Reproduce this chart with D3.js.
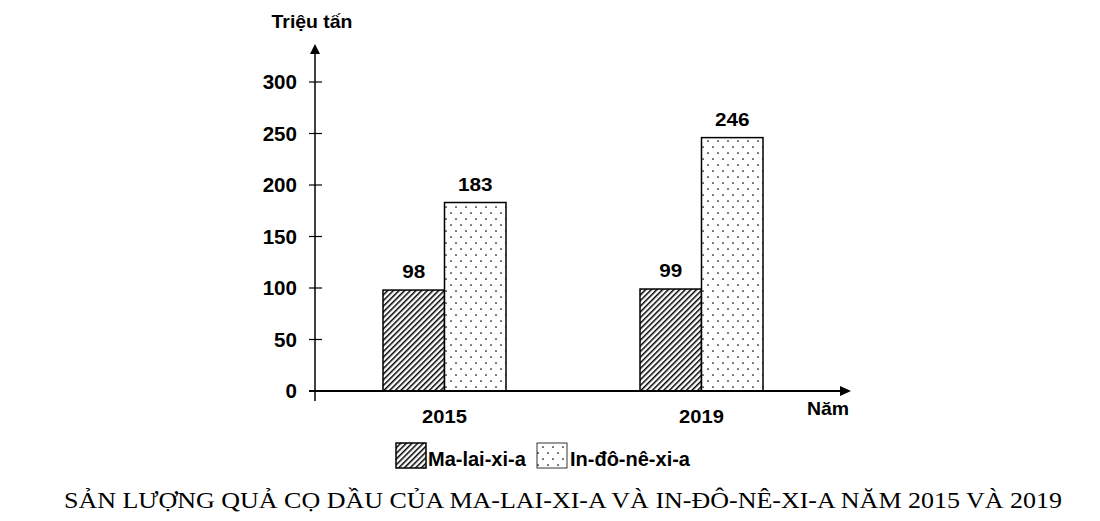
<!DOCTYPE html>
<html>
<head>
<meta charset="utf-8">
<script src="https://cdn.jsdelivr.net/npm/d3@7"></script>
<style>
  body { margin: 0; background: #fff; }
  svg { display: block; }
  .sans { font-family: "Liberation Sans", Arial, sans-serif; font-weight: bold; fill: #000; }
  .title { font-family: "Liberation Serif", "Times New Roman", serif; font-size: 23px; fill: #000; }
</style>
</head>
<body>
<div id="container"></div>
<script>
const years = ["2015", "2019"];
const seriesNames = ["Ma-lai-xi-a", "In-đô-nê-xi-a"];
const malaysia = [98, 99];
const indonesia = [183, 246];
const yTicks = [0, 50, 100, 150, 200, 250, 300];

const width = 1100;
const height = 521;

const svg = d3.select('#container').append('svg')
    .attr('width', width)
    .attr('height', height);

// text placed with a slight horizontal stretch, like the source picture
const label = (sel, x, y, size, sx, anchor) => sel
    .attr('class', 'sans')
    .attr('transform', `translate(${x},${y}) scale(${sx},1)`)
    .attr('text-anchor', anchor)
    .style('font-size', size + 'px');

// patterns
const defs = svg.append('defs');
const hatch = defs.append('pattern')
    .attr('id', 'hatch')
    .attr('patternUnits', 'userSpaceOnUse')
    .attr('width', 4)
    .attr('height', 4)
    .attr('patternTransform', 'rotate(45)');
hatch.append('rect').attr('width', 4).attr('height', 4).attr('fill', '#fff');
hatch.append('line')
    .attr('x1', 0).attr('y1', 0).attr('x2', 0).attr('y2', 4)
    .attr('stroke', '#000').attr('stroke-width', 3);

const dots = defs.append('pattern')
    .attr('id', 'dots')
    .attr('patternUnits', 'userSpaceOnUse')
    .attr('width', 10)
    .attr('height', 12);
dots.append('rect').attr('width', 10).attr('height', 12).attr('fill', '#fff');
dots.append('circle').attr('cx', 3).attr('cy', 3).attr('r', 0.85).attr('fill', '#000');
dots.append('circle').attr('cx', 8).attr('cy', 9).attr('r', 0.85).attr('fill', '#000');

const x0 = 315;
const xEnd = 850;
const yZero = 391;

const yScale = d3.scaleLinear()
    .domain([0, 300])
    .range([yZero, 82]);

const xScale = d3.scaleBand()
    .domain(years)
    .range([318.75, 827.25])
    .paddingInner(0.5214)
    .paddingOuter(0.25);

const inner = d3.scaleBand()
    .domain(seriesNames)
    .range([0, xScale.bandwidth()]);

// y axis line with arrow
svg.append('line')
    .attr('x1', x0).attr('y1', 401)
    .attr('x2', x0).attr('y2', 52)
    .attr('stroke', '#000').attr('stroke-width', 1.5);
svg.append('path')
    .attr('d', `M${x0 - 5},${54} L${x0},${44} L${x0 + 5},${54} Z`)
    .attr('fill', '#000');

// y ticks
const yAxis = svg.append('g');
yAxis.selectAll('line')
    .data(yTicks)
    .enter()
    .append('line')
    .attr('x1', x0 - 6)
    .attr('x2', x0 + 7)
    .attr('y1', d => yScale(d))
    .attr('y2', d => yScale(d))
    .attr('stroke', '#000')
    .attr('stroke-width', 1.2);
yAxis.selectAll('text')
    .data(yTicks)
    .enter()
    .append('text')
    .each(function (d) {
        label(d3.select(this), 297, yScale(d) + 7, 20, 1.03, 'end');
    })
    .text(d => d);

label(svg.append('text'), 312, 28, 18, 1.08, 'middle').text('Triệu tấn');

// bars
const groups = svg.selectAll('g.year')
    .data(years)
    .enter()
    .append('g')
    .attr('class', 'year')
    .attr('transform', d => `translate(${xScale(d)},0)`);

groups.each(function (y, i) {
    const g = d3.select(this);
    const data = [
        { name: seriesNames[0], value: malaysia[i], fill: 'url(#hatch)' },
        { name: seriesNames[1], value: indonesia[i], fill: 'url(#dots)' }
    ];
    g.selectAll('rect')
        .data(data)
        .enter()
        .append('rect')
        .attr('x', d => inner(d.name))
        .attr('y', d => yScale(d.value))
        .attr('width', inner.bandwidth())
        .attr('height', d => yZero - yScale(d.value))
        .attr('fill', d => d.fill)
        .attr('stroke', '#000')
        .attr('stroke-width', 1.5);
    g.selectAll('text')
        .data(data)
        .enter()
        .append('text')
        .each(function (d) {
            label(d3.select(this), inner(d.name) + inner.bandwidth() / 2,
                yScale(d.value) - 12, 18, 1.15, 'middle');
        })
        .text(d => d.value);
});

// x axis with arrow
svg.append('line')
    .attr('x1', x0 - 6).attr('y1', yZero)
    .attr('x2', xEnd - 8).attr('y2', yZero)
    .attr('stroke', '#000').attr('stroke-width', 2);
svg.append('path')
    .attr('d', `M${xEnd - 10},${yZero - 5} L${xEnd + 1},${yZero} L${xEnd - 10},${yZero + 5} Z`)
    .attr('fill', '#000');

svg.selectAll('text.cat')
    .data(years)
    .enter()
    .append('text')
    .each(function (d) {
        label(d3.select(this), xScale(d) + xScale.bandwidth() / 2, 423, 18, 1.12, 'middle');
    })
    .text(d => d);

label(svg.append('text'), 828, 415, 18, 1.08, 'middle').text('Năm');

// legend
const legend = [
    { name: seriesNames[0], fill: 'url(#hatch)', x: 396, tx: 428, sw: 1.5 },
    { name: seriesNames[1], fill: 'url(#dots)', x: 537, tx: 570, sw: 0.8 }
];
const lg = svg.append('g');
lg.selectAll('rect')
    .data(legend)
    .enter()
    .append('rect')
    .attr('x', d => d.x)
    .attr('y', 443)
    .attr('width', 30)
    .attr('height', 25)
    .attr('fill', d => d.fill)
    .attr('stroke', '#000')
    .attr('stroke-width', d => d.sw);
lg.selectAll('text')
    .data(legend)
    .enter()
    .append('text')
    .each(function (d) {
        label(d3.select(this), d.tx, 466, 20, 1.0, 'start');
    })
    .text(d => d.name);

svg.append('text')
    .attr('class', 'title')
    .attr('x', 64)
    .attr('y', 508)
    .attr('textLength', 998)
    .attr('lengthAdjust', 'spacingAndGlyphs')
    .text('SẢN LƯỢNG QUẢ CỌ DẦU CỦA MA-LAI-XI-A VÀ IN-ĐÔ-NÊ-XI-A NĂM 2015 VÀ 2019');
</script>
</body>
</html>
